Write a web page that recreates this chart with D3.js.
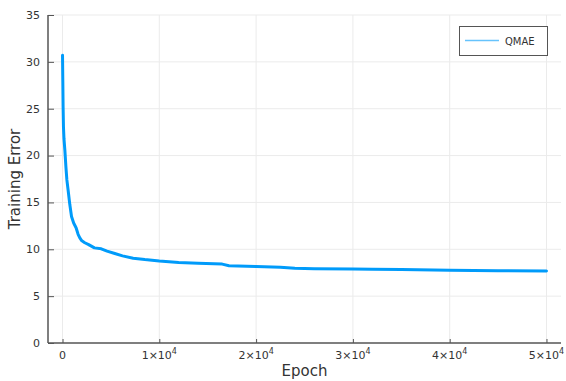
<!DOCTYPE html>
<html>
<head>
<meta charset="utf-8">
<script src="https://cdn.jsdelivr.net/npm/d3@7/dist/d3.min.js"></script>
<style>
  html, body { margin: 0; padding: 0; background: #fff; }
  svg { display: block; font-family: "DejaVu Sans", sans-serif; }
</style>
</head>
<body>
<svg id="chart" width="566" height="381"></svg>
<script>
// Training error of the QMAE model over epochs
const seriesName = "QMAE";
const epochs = [0, 30, 60, 100, 150, 240, 350, 450, 580, 750, 930, 1150, 1400, 1610, 1800,
  2000, 2300, 2700, 3300, 4000, 4600, 5400, 6200, 7300, 8500, 10000, 12000, 14000, 16500,
  17200, 20000, 22500, 24000, 26000, 30000, 32000, 35000, 40000, 45000, 50000];
const trainingError = [30.7, 28.0, 25.2, 23.0, 21.8, 20.6, 18.8, 17.4, 16.3, 14.8, 13.5, 12.8,
  12.3, 11.6, 11.2, 10.9, 10.7, 10.5, 10.15, 10.05, 9.8, 9.55, 9.3, 9.05, 8.9, 8.75, 8.6, 8.5,
  8.42, 8.25, 8.15, 8.08, 7.97, 7.93, 7.9, 7.88, 7.85, 7.77, 7.72, 7.68];
const xTicks = [0, 10000, 20000, 30000, 40000, 50000];
const yTicks = [0, 5, 10, 15, 20, 25, 30, 35];
const xLabel = "Epoch";
const yLabel = "Training Error";

const svg = d3.select("#chart");
const plot = { left: 48, right: 561, top: 15, bottom: 343 };

const x = d3.scaleLinear().domain([-1500, 51500]).range([plot.left, plot.right]);
const y = d3.scaleLinear().domain([0, 35]).range([plot.bottom, plot.top]);

const gridColor = "#ebebeb";
const axisColor = "#555";
const textColor = "#333";

// grid
svg.append("g").selectAll("line").data(xTicks).join("line")
  .attr("x1", d => x(d)).attr("x2", d => x(d))
  .attr("y1", plot.top).attr("y2", plot.bottom)
  .attr("stroke", gridColor).attr("stroke-width", 1);
svg.append("g").selectAll("line").data(yTicks.filter(d => d > 0)).join("line")
  .attr("x1", plot.left).attr("x2", plot.right)
  .attr("y1", d => y(d)).attr("y2", d => y(d))
  .attr("stroke", gridColor).attr("stroke-width", 1);

// axes (ticks point inward)
const xAxis = d3.axisBottom(x).tickValues(xTicks).tickSize(-4).tickFormat("");
const yAxis = d3.axisLeft(y).tickValues(yTicks).tickSize(-6).tickFormat("");
const gx = svg.append("g").attr("transform", `translate(0,${plot.bottom})`).call(xAxis);
const gy = svg.append("g").attr("transform", `translate(${plot.left},0)`).call(yAxis);
[gx, gy].forEach(g => {
  g.select(".domain").attr("stroke", axisColor).attr("stroke-width", 1.5);
  g.selectAll(".tick line").attr("stroke", axisColor).attr("stroke-width", 1);
});
gx.select(".domain").attr("d", `M${plot.left},0H${plot.right}`);
gy.select(".domain").attr("d", `M0,${plot.top}V${plot.bottom}`);

// y tick labels
svg.append("g").selectAll("text").data(yTicks).join("text")
  .attr("x", plot.left - 8).attr("y", d => y(d)).attr("dy", "0.35em")
  .attr("text-anchor", "end").attr("font-size", 11).attr("fill", textColor)
  .text(d => d);

// x tick labels in 1×10⁴ notation
const xl = svg.append("g").selectAll("text").data(xTicks).join("text")
  .attr("x", d => x(d)).attr("y", plot.bottom + 16)
  .attr("text-anchor", "middle").attr("font-size", 11).attr("fill", textColor);
xl.each(function(d) {
  const t = d3.select(this);
  if (d === 0) { t.text("0"); return; }
  t.append("tspan").text(`${d / 10000}×10`);
  t.append("tspan").attr("dy", -5).attr("font-size", 8).text("4");
});

// axis titles
svg.append("text").attr("x", (plot.left + plot.right) / 2).attr("y", 376)
  .attr("text-anchor", "middle").attr("font-size", 15).attr("fill", textColor)
  .text(xLabel);
svg.append("text")
  .attr("transform", `translate(20,${(plot.top + plot.bottom) / 2}) rotate(-90)`)
  .attr("text-anchor", "middle").attr("font-size", 15).attr("fill", textColor)
  .text(yLabel);

// series line
const line = d3.line().x((d, i) => x(epochs[i])).y(d => y(d));
svg.append("path").datum(trainingError)
  .attr("d", line).attr("fill", "none")
  .attr("stroke", "#009bfa").attr("stroke-width", 3)
  .attr("stroke-linejoin", "round").attr("stroke-linecap", "round");

// legend
const lg = svg.append("g");
lg.append("rect").attr("x", 459.5).attr("y", 26.5).attr("width", 88).attr("height", 29)
  .attr("fill", "#fff").attr("stroke", axisColor).attr("stroke-width", 1);
lg.append("line").attr("x1", 465).attr("x2", 499).attr("y1", 40.5).attr("y2", 40.5)
  .attr("stroke", "#009bfa").attr("stroke-opacity", 0.6).attr("stroke-width", 1.5);
lg.append("text").attr("x", 505).attr("y", 41).attr("dy", "0.35em")
  .attr("font-size", 10).attr("fill", textColor).text(seriesName);
</script>
</body>
</html>
